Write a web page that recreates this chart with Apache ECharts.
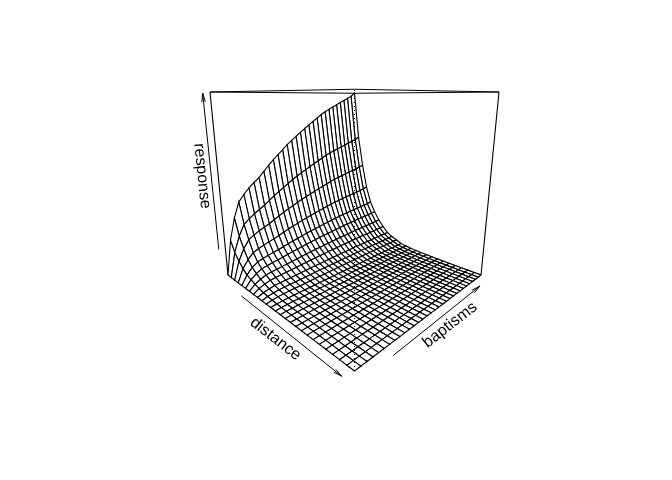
<!DOCTYPE html>
<html>
<head>
<meta charset="utf-8">
<script src="https://cdn.jsdelivr.net/npm/echarts@6/dist/echarts.min.js"></script>
<style>html,body{margin:0;padding:0;background:#fff}#c{width:672px;height:480px}</style>
</head>
<body>
<div id="c"></div>
<script>
// response height at distance = 0, one value per baptisms grid line (fraction of the z box)
const baptismsProfile = [0, .2016, .324, .4096, .4461, .4776, .5036, .5274, .5587, .5895, .6182, .6446, .6704, .6969, .7203, .7422, .7635, .7851, .8053, .8254, .8451, .8653, .8819, .8962, .9108, .9238, .9389, .9517, .9647, .9791, 1];
// relative decay of the response, one value per distance grid line
const distanceProfile = [1, .7009, .5056, .3513, .2482, .185, .1329, .0949, .0617, .0435, .03, .0166, .012, .008, .0055, .0038, .0026, .0018, .0012, .0008, .0005, .0003, .0002, .0001, .0001, 0];
const axisLabels = ['distance', 'baptisms', 'response'];

// viewing set-up
const thetaDeg = 45, phiDeg = 14.62, eyeDist = 3.675, halfHeight = 0.9667;
const viewX = [-1.0111, 0.9056], viewY = [-0.8112, 0.5296];

const th = thetaDeg * Math.PI / 180, ph = phiDeg * Math.PI / 180;
const cT = Math.cos(th), sT = Math.sin(th), cP = Math.cos(ph), sP = Math.sin(ph);
function project(d, b, zf) {
  const z = (2 * zf - 1) * halfHeight;
  const X = d * cT + b * sT, w = d * sT - b * cT;
  const Y = z * cP - w * sP, Zv = z * sP + w * cP, den = eyeDist - Zv;
  return [X / den, Y / den, Zv];
}
const nD = distanceProfile.length - 1, nB = baptismsProfile.length - 1;
const gridD = i => -1 + 2 * i / nD, gridB = j => -1 + 2 * j / nB;
const surf = (i, j) => project(gridD(i), gridB(j), baptismsProfile[j] * distanceProfile[i]);

const cells = [];
for (let i = 0; i < nD; i++) for (let j = 0; j < nB; j++) {
  const ps = [surf(i, j), surf(i + 1, j), surf(i + 1, j + 1), surf(i, j + 1)];
  const depth = ps.reduce((a, p) => a + p[2], 0) / 4;
  cells.push({ depth, value: [].concat(...ps.map(p => [p[0], p[1]])) });
}
cells.sort((a, b) => a.depth - b.depth);

const seg = (a, b) => { const p = project(...a), q = project(...b); return [p[0], p[1], q[0], q[1]]; };
const boxBack = [
  seg([-1, -1, 0], [-1, -1, 1]), seg([1, 1, 0], [1, 1, 1]), seg([-1, 1, 0], [-1, 1, 1]),
  seg([-1, -1, 1], [-1, 1, 1]), seg([-1, 1, 1], [1, 1, 1]), seg([-1, -1, 1], [1, -1, 1]), seg([1, -1, 1], [1, 1, 1]),
  seg([-1, -1, 0], [-1, 1, 0]), seg([-1, 1, 0], [1, 1, 0])
];
const boxFront = [
  seg([1, -1, 0], [1, -1, 1]), seg([-1, -1, 0], [1, -1, 0]), seg([1, -1, 0], [1, 1, 0])
];
const arrows = [
  seg([-0.5, -1.1, 0], [0.97, -1.1, 0]),
  seg([1.1, -0.675, 0], [1.1, 0.77, 0]),
  seg([-1.0515, -1.0515, 0.1573], [-1.0515, -1.0515, 0.994])
];

const LW = 1.1;
function lineRender(dash) {
  return function (params, api) {
    const a = api.coord([api.value(0), api.value(1)]), b = api.coord([api.value(2), api.value(3)]);
    return { type: 'line', shape: { x1: a[0], y1: a[1], x2: b[0], y2: b[1] },
      style: { stroke: '#000', lineWidth: LW, lineDash: dash, fill: null } };
  };
}
function arrowRender(params, api) {
  const a = api.coord([api.value(0), api.value(1)]), b = api.coord([api.value(2), api.value(3)]);
  const ang = Math.atan2(b[1] - a[1], b[0] - a[0]), L = 9, S = 0.2;
  const barb = s => [b[0] - L * Math.cos(ang + s), b[1] - L * Math.sin(ang + s)];
  return { type: 'group', children: [
    { type: 'line', shape: { x1: a[0], y1: a[1], x2: b[0], y2: b[1] }, style: { stroke: '#000', lineWidth: 1 } },
    { type: 'polyline', shape: { points: [barb(S), b, barb(-S)] }, style: { stroke: '#000', lineWidth: 1, fill: null } }
  ] };
}
function cellRender(params, api) {
  const pts = [0, 2, 4, 6].map(k => api.coord([api.value(k), api.value(k + 1)]));
  return { type: 'polygon', shape: { points: pts }, style: { fill: '#fff', stroke: '#000', lineWidth: LW } };
}
const dims = n => Array.from({ length: n }, (_, i) => 'v' + i);
const common = { type: 'custom', coordinateSystem: 'cartesian2d', silent: true, animation: false, clip: false, progressive: 0 };
const textFont = 'Liberation Sans, Arial, Helvetica, sans-serif';
const label = (text, x, y, deg) => ({ type: 'text', x, y, rotation: deg * Math.PI / 180, silent: true,
  style: { text, fill: '#000', font: '16px ' + textFont, align: 'center', verticalAlign: 'middle' } });

const chart = echarts.init(document.getElementById('c'), null, { renderer: 'canvas' });
chart.setOption({
  backgroundColor: '#fff', animation: false,
  grid: { left: 0, right: 0, top: 0, bottom: 0 },
  xAxis: { type: 'value', min: viewX[0], max: viewX[1], show: false },
  yAxis: { type: 'value', min: viewY[0], max: viewY[1], show: false },
  series: [
    Object.assign({}, common, { name: 'box', z: 1, dimensions: dims(4), encode: { x: 0, y: 1 }, data: boxBack, renderItem: lineRender(null) }),
    Object.assign({}, common, { name: 'surface', z: 2, dimensions: dims(8), encode: { x: 0, y: 1 }, data: cells.map(c => c.value), renderItem: cellRender }),
    Object.assign({}, common, { name: 'front', z: 3, dimensions: dims(4), encode: { x: 0, y: 1 }, data: boxFront, renderItem: lineRender([1, 3]) }),
    Object.assign({}, common, { name: 'arrows', z: 4, dimensions: dims(4), encode: { x: 0, y: 1 }, data: arrows, renderItem: arrowRender })
  ],
  graphic: [
    label(axisLabels[0], 275.5, 339, -38),
    label(axisLabels[1], 450, 325, 38),
    label(axisLabels[2], 202, 176, -84)
  ]
});
</script>
</body>
</html>
